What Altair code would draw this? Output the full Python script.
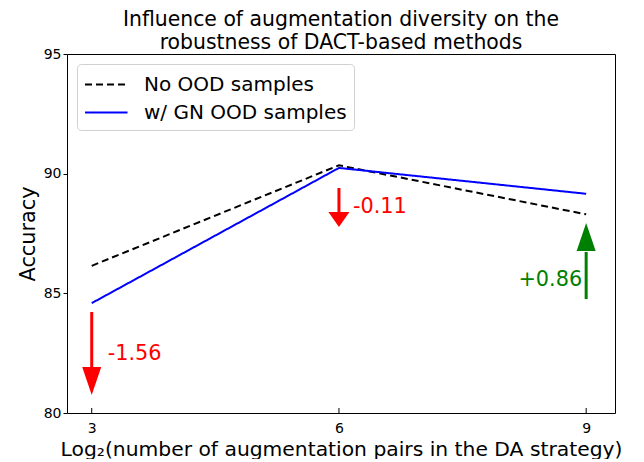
import altair as alt
import pandas as pd

# ---- data ----
x_vals = [3, 6, 9]
no_ood = [86.15, 90.35, 88.30]
gn_ood = [84.59, 90.24, 89.16]
series_names = ["No OOD samples", "w/ GN OOD samples"]

arrow_x = [3, 6, 9]
arrow_start = [84.22, 89.40, 84.76]
arrow_base = [81.92, 88.40, 86.73]
arrow_tip = [80.75, 87.77, 87.94]
arrow_color = ["red", "red", "green"]
arrow_shape = [
    "M-0.68,-2 L0.68,-2 L0,0 Z",
    "M-0.75,-1.07 L0.75,-1.07 L0,0 Z",
    "M-0.68,2 L0.68,2 L0,0 Z",
]

label_text = ["-1.56", "-0.11", "+0.86"]
label_x = [3, 6, 9]
label_y = [82.45, 88.6, 85.55]
label_dx = [16, 14, -4]
label_align = ["left", "left", "right"]

x_ticks = [3, 6, 9]
y_ticks = [80, 85, 90, 95]

W, H = 548, 359

lines = pd.DataFrame(
    {
        "x": x_vals * 2,
        "y": no_ood + gn_ood,
        "series": [series_names[0]] * 3 + [series_names[1]] * 3,
    }
)
arrows = pd.DataFrame(
    {
        "x": arrow_x,
        "start": arrow_start,
        "base": arrow_base,
        "tip": arrow_tip,
        "color": arrow_color,
        "shape": arrow_shape,
    }
)
labels = pd.DataFrame(
    {
        "x": label_x,
        "y": label_y,
        "text": label_text,
        "color": ["red", "red", "green"],
    }
)
ticks = pd.DataFrame({"x": x_ticks})

xscale = alt.Scale(domain=[2.7, 9.35], nice=False, zero=False)
yscale = alt.Scale(domain=[80, 95], nice=False, zero=False)

line_layer = (
    alt.Chart(lines)
    .mark_line(strokeWidth=2)
    .encode(
        x=alt.X(
            "x:Q",
            scale=xscale,
            axis=alt.Axis(
                values=x_ticks,
                format="d",
                tickSize=0,
                labelPadding=8,
                grid=False,
                title="Log₂(number of augmentation pairs in the DA strategy)",
                titlePadding=4,
                titleFontSize=20.3,
            ),
        ),
        y=alt.Y(
            "y:Q",
            scale=yscale,
            axis=alt.Axis(
                values=y_ticks,
                tickSize=4,
                labelPadding=2,
                grid=False,
                title="Accuracy",
                titlePadding=5,
            ),
        ),
        color=alt.Color(
            "series:N",
            scale=alt.Scale(domain=series_names, range=["black", "blue"]),
            legend=alt.Legend(title=None),
        ),
        strokeDash=alt.StrokeDash(
            "series:N",
            scale=alt.Scale(domain=series_names, range=[[7, 4], [1, 0]]),
            legend=alt.Legend(title=None),
        ),
    )
)

shaft_layer = (
    alt.Chart(arrows)
    .mark_rule(strokeWidth=3)
    .encode(
        x=alt.X("x:Q", scale=xscale),
        y=alt.Y("start:Q", scale=yscale),
        y2="base:Q",
        color=alt.Color("color:N", scale=None),
    )
)

head_layer = (
    alt.Chart(arrows)
    .mark_point(filled=True, opacity=1, size=784, strokeWidth=0)
    .encode(
        x=alt.X("x:Q", scale=xscale),
        y=alt.Y("tip:Q", scale=yscale),
        shape=alt.Shape("shape:N", scale=None),
        color=alt.Color("color:N", scale=None),
    )
)

text_layers = []
for i in range(len(label_text)):
    text_layers.append(
        alt.Chart(labels.iloc[[i]])
        .mark_text(
            fontSize=20.8,
            align=label_align[i],
            baseline="middle",
            dx=label_dx[i],
            font="DejaVu Sans",
        )
        .encode(
            x=alt.X("x:Q", scale=xscale),
            y=alt.Y("y:Q", scale=yscale),
            text="text:N",
            color=alt.Color("color:N", scale=None),
        )
    )

tick_layer = (
    alt.Chart(ticks)
    .mark_rule(color="black", strokeWidth=1)
    .encode(
        x=alt.X("x:Q", scale=xscale),
        y=alt.value(H),
        y2=alt.value(H - 5),
    )
)

chart = (
    alt.layer(line_layer, shaft_layer, head_layer, tick_layer, *text_layers)
    .properties(
        width=W,
        height=H,
        autosize=alt.AutoSizeParams(type="none"),
        padding={"left": 59, "top": 46, "right": 20, "bottom": 46},
        title=alt.Title(
            ["Influence of augmentation diversity on the", "robustness of DACT-based methods"],
            fontSize=20.4,
            fontWeight="normal",
            font="DejaVu Sans",
            lineHeight=23,
            offset=-6,
            anchor="middle",
        ),
    )
    .configure_view(stroke="black", strokeWidth=1)
    .configure_axis(
        labelFont="DejaVu Sans",
        titleFont="DejaVu Sans",
        labelFontSize=14,
        titleFontSize=20.8,
        titleFontWeight="normal",
        labelColor="black",
        titleColor="black",
        domainColor="black",
        tickColor="black",
        domain=False,
    )
    .configure_legend(
        orient="top-left",
        offset=10,
        padding=7,
        fillColor="white",
        strokeColor="#d0d0d0",
        cornerRadius=4,
        labelFont="DejaVu Sans",
        labelFontSize=20,
        labelColor="black",
        labelLimit=0,
        symbolType="M-1,0 L2.4,0",
        symbolSize=625,
        symbolStrokeWidth=2,
        symbolFillColor="transparent",
        rowPadding=4,
        labelOffset=33,
    )
)

chart.save("out.html", embed_options={"renderer": "svg", "actions": False})
